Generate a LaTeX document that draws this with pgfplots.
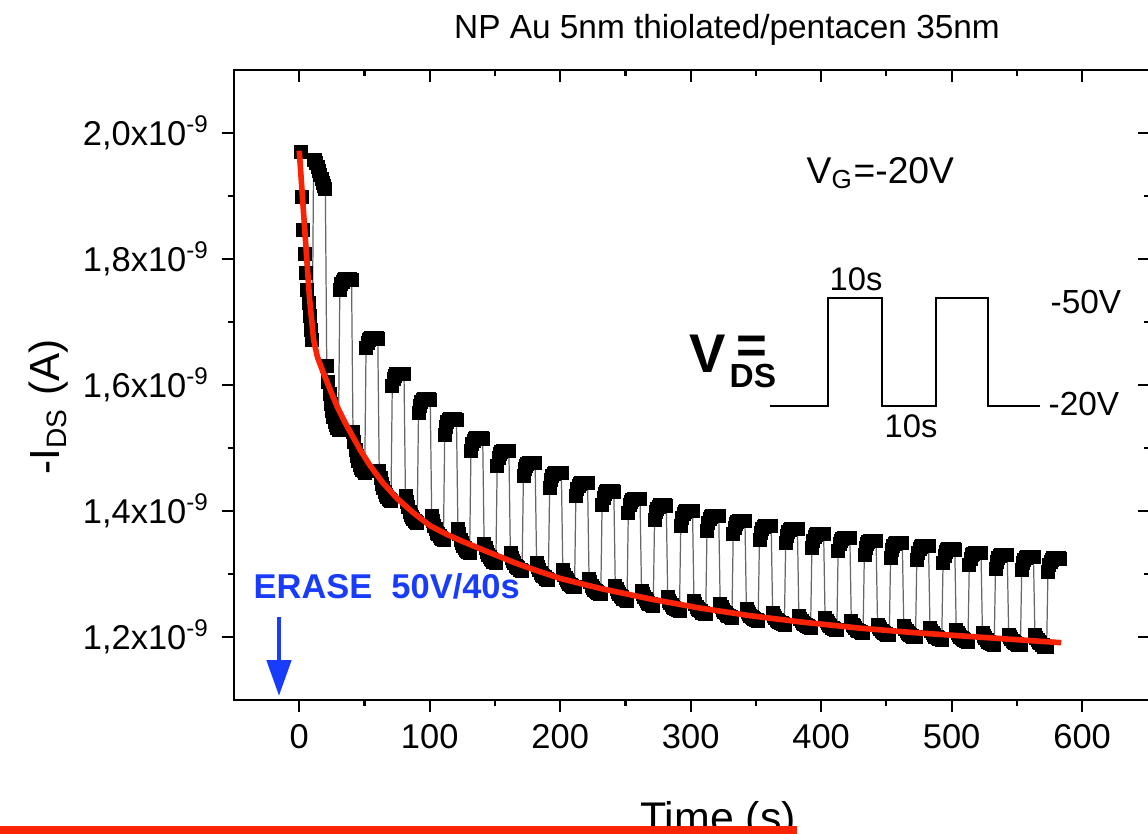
\documentclass[border=0pt]{standalone}
\usepackage{fontspec}
\setmainfont{Liberation Sans}
\usepackage{pgfplots}
\pgfplotsset{compat=1.18}
\usetikzlibrary{arrows.meta}
\definecolor{fitred}{RGB}{250,35,5}
\definecolor{eraseblue}{RGB}{25,60,250}

\pgfplotsset{frame/.style={
    scale only axis, width=91.6mm, height=63mm,
    at={(23.4mm,-70mm)}, anchor=south west,
    xmin=-50, xmax=652, ymin=1.1, ymax=2.1,
    axis line style={line width=0.6pt},
    major tick length=1.2mm, minor tick length=0.6mm,
    every tick/.style={black, line width=0.6pt},
    xtick={0,100,...,600}, minor xtick={50,150,...,550},
    ytick={1.2,1.4,1.6,1.8,2.0}, minor ytick={1.3,1.5,1.7,1.9}}}

\begin{document}
\begin{tikzpicture}
\path[use as bounding box] (0,0) rectangle (114.8mm,-83.3mm);

\begin{axis}[frame, tick align=outside, xtick pos=lower, ytick pos=lower,
    clip mode=individual,
    /pgf/number format/assume math mode=true,
    tick label style={font=\fontsize{9.8}{11}\selectfont},
    yticklabels={{1,2x10\textsuperscript{-9}},{1,4x10\textsuperscript{-9}},{1,6x10\textsuperscript{-9}},{1,8x10\textsuperscript{-9}},{2,0x10\textsuperscript{-9}}}]

% -I_DS in units of 1e-9 A; each line = one 10 s segment (low, then high)
\addplot[black!60, line width=0.35pt, mark=square*, mark size=0.65mm,
    mark options={black, fill=black, line width=0.2pt}] coordinates {
(1,1.970)(2,1.898)(3,1.846)(4,1.808)(5,1.778)(6,1.751)(7,1.730)(8,1.709)(9,1.688)(10,1.672)
(11,1.958)(12,1.957)(13,1.953)(14,1.947)(15,1.940)(16,1.933)(17,1.927)(18,1.921)(19,1.916)(20,1.912)
(21.1,1.630)(22.1,1.605)(23.1,1.586)(24.1,1.570)(25.1,1.559)(26.1,1.550)(27.1,1.542)(28.1,1.537)(29.1,1.532)(30.1,1.529)
(31.1,1.751)(32.1,1.760)(33.1,1.764)(34.1,1.767)(35.1,1.768)(36.1,1.768)(37.1,1.768)(38.1,1.768)(39.1,1.768)(40.1,1.767)
(41.2,1.525)(42.2,1.509)(43.2,1.497)(44.2,1.487)(45.2,1.480)(46.2,1.474)(47.2,1.469)(48.2,1.466)(49.2,1.463)(50.2,1.461)
(51.2,1.659)(52.2,1.667)(53.2,1.672)(54.2,1.674)(55.2,1.675)(56.2,1.675)(57.2,1.675)(58.2,1.675)(59.2,1.675)(60.2,1.674)
(61.3,1.464)(62.3,1.452)(63.3,1.443)(64.3,1.436)(65.3,1.430)(66.3,1.426)(67.3,1.422)(68.3,1.420)(69.3,1.418)(70.3,1.416)
(71.3,1.599)(72.3,1.609)(73.3,1.614)(74.3,1.617)(75.3,1.618)(76.3,1.618)(77.3,1.618)(78.3,1.618)(79.3,1.618)(80.3,1.617)
(81.4,1.424)(82.4,1.414)(83.4,1.406)(84.4,1.399)(85.4,1.394)(86.4,1.391)(87.4,1.388)(88.4,1.385)(89.4,1.383)(90.4,1.382)
(91.4,1.556)(92.4,1.567)(93.4,1.573)(94.4,1.576)(95.4,1.578)(96.4,1.578)(97.4,1.578)(98.4,1.578)(99.4,1.578)(100.4,1.577)
(101.5,1.393)(102.5,1.384)(103.5,1.376)(104.5,1.371)(105.5,1.366)(106.5,1.363)(107.5,1.360)(108.5,1.358)(109.5,1.356)(110.5,1.355)
(111.5,1.521)(112.5,1.534)(113.5,1.541)(114.5,1.544)(115.5,1.546)(116.5,1.546)(117.5,1.546)(118.5,1.546)(119.5,1.546)(120.5,1.545)
(121.6,1.372)(122.6,1.363)(123.6,1.355)(124.6,1.350)(125.6,1.345)(126.6,1.342)(127.6,1.339)(128.6,1.337)(129.6,1.335)(130.6,1.334)
(131.6,1.496)(132.6,1.506)(133.6,1.512)(134.6,1.514)(135.6,1.516)(136.6,1.516)(137.6,1.516)(138.6,1.516)(139.6,1.516)(140.6,1.515)
(141.7,1.348)(142.7,1.341)(143.7,1.335)(144.7,1.330)(145.7,1.327)(146.7,1.324)(147.7,1.322)(148.7,1.320)(149.7,1.319)(150.7,1.318)
(151.7,1.472)(152.7,1.484)(153.7,1.491)(154.7,1.494)(155.7,1.496)(156.7,1.496)(157.7,1.496)(158.7,1.496)(159.7,1.496)(160.7,1.495)
(161.8,1.333)(162.8,1.326)(163.8,1.321)(164.8,1.317)(165.8,1.313)(166.8,1.311)(167.8,1.309)(168.8,1.307)(169.8,1.306)(170.8,1.305)
(171.8,1.456)(172.8,1.467)(173.8,1.472)(174.8,1.475)(175.8,1.477)(176.8,1.477)(177.8,1.477)(178.8,1.477)(179.8,1.477)(180.8,1.476)
(181.9,1.318)(182.9,1.311)(183.9,1.306)(184.9,1.302)(185.9,1.299)(186.9,1.297)(187.9,1.295)(188.9,1.293)(189.9,1.292)(190.9,1.291)
(191.9,1.437)(192.9,1.449)(193.9,1.456)(194.9,1.459)(195.9,1.461)(196.9,1.461)(197.9,1.461)(198.9,1.461)(199.9,1.461)(200.9,1.460)
(202.0,1.306)(203.0,1.299)(204.0,1.294)(205.0,1.290)(206.0,1.287)(207.0,1.285)(208.0,1.283)(209.0,1.281)(210.0,1.280)(211.0,1.279)
(212.0,1.424)(213.0,1.435)(214.0,1.440)(215.0,1.443)(216.0,1.445)(217.0,1.445)(218.0,1.445)(219.0,1.445)(220.0,1.445)(221.0,1.444)
(222.1,1.293)(223.1,1.287)(224.1,1.282)(225.1,1.278)(226.1,1.275)(227.1,1.273)(228.1,1.271)(229.1,1.270)(230.1,1.269)(231.1,1.268)
(232.1,1.410)(233.1,1.421)(234.1,1.427)(235.1,1.430)(236.1,1.432)(237.1,1.432)(238.1,1.432)(239.1,1.432)(240.1,1.432)(241.1,1.431)
(242.2,1.282)(243.2,1.276)(244.2,1.271)(245.2,1.268)(246.2,1.265)(247.2,1.263)(248.2,1.261)(249.2,1.260)(250.2,1.259)(251.2,1.258)
(252.2,1.397)(253.2,1.409)(254.2,1.415)(255.2,1.418)(256.2,1.420)(257.2,1.420)(258.2,1.420)(259.2,1.420)(260.2,1.420)(261.2,1.419)
(262.3,1.274)(263.3,1.268)(264.3,1.263)(265.3,1.260)(266.3,1.257)(267.3,1.255)(268.3,1.253)(269.3,1.252)(270.3,1.251)(271.3,1.250)
(272.3,1.386)(273.3,1.398)(274.3,1.404)(275.3,1.407)(276.3,1.409)(277.3,1.409)(278.3,1.409)(279.3,1.409)(280.3,1.409)(281.3,1.408)
(282.4,1.263)(283.4,1.258)(284.4,1.254)(285.4,1.251)(286.4,1.248)(287.4,1.246)(288.4,1.245)(289.4,1.244)(290.4,1.243)(291.4,1.242)
(292.4,1.377)(293.4,1.389)(294.4,1.396)(295.4,1.399)(296.4,1.401)(297.4,1.401)(298.4,1.401)(299.4,1.401)(300.4,1.401)(301.4,1.400)
(302.5,1.258)(303.5,1.253)(304.5,1.248)(305.5,1.245)(306.5,1.243)(307.5,1.241)(308.5,1.239)(309.5,1.238)(310.5,1.237)(311.5,1.236)
(312.5,1.369)(313.5,1.381)(314.5,1.388)(315.5,1.391)(316.5,1.393)(317.5,1.393)(318.5,1.393)(319.5,1.393)(320.5,1.393)(321.5,1.392)
(322.6,1.253)(323.6,1.248)(324.6,1.243)(325.6,1.240)(326.6,1.238)(327.6,1.235)(328.6,1.234)(329.6,1.233)(330.6,1.232)(331.6,1.231)
(332.6,1.363)(333.6,1.374)(334.6,1.380)(335.6,1.383)(336.6,1.385)(337.6,1.385)(338.6,1.385)(339.6,1.385)(340.6,1.385)(341.6,1.384)
(342.7,1.245)(343.7,1.240)(344.7,1.237)(345.7,1.234)(346.7,1.232)(347.7,1.230)(348.7,1.229)(349.7,1.228)(350.7,1.227)(351.7,1.226)
(352.7,1.355)(353.7,1.366)(354.7,1.372)(355.7,1.375)(356.7,1.377)(357.7,1.377)(358.7,1.377)(359.7,1.377)(360.7,1.377)(361.7,1.376)
(362.8,1.239)(363.8,1.234)(364.8,1.231)(365.8,1.228)(366.8,1.226)(367.8,1.224)(368.8,1.223)(369.8,1.222)(370.8,1.221)(371.8,1.220)
(372.8,1.350)(373.8,1.361)(374.8,1.367)(375.8,1.370)(376.8,1.372)(377.8,1.372)(378.8,1.372)(379.8,1.372)(380.8,1.372)(381.8,1.371)
(382.9,1.234)(383.9,1.229)(384.9,1.226)(385.9,1.223)(386.9,1.221)(387.9,1.219)(388.9,1.218)(389.9,1.217)(390.9,1.216)(391.9,1.215)
(392.9,1.342)(393.9,1.353)(394.9,1.359)(395.9,1.362)(396.9,1.364)(397.9,1.364)(398.9,1.364)(399.9,1.364)(400.9,1.364)(401.9,1.363)
(403.0,1.230)(404.0,1.225)(405.0,1.222)(406.0,1.219)(407.0,1.217)(408.0,1.215)(409.0,1.214)(410.0,1.213)(411.0,1.212)(412.0,1.211)
(413.0,1.337)(414.0,1.348)(415.0,1.353)(416.0,1.356)(417.0,1.358)(418.0,1.358)(419.0,1.358)(420.0,1.358)(421.0,1.358)(422.0,1.357)
(423.1,1.225)(424.1,1.220)(425.1,1.217)(426.1,1.214)(427.1,1.212)(428.1,1.210)(429.1,1.209)(430.1,1.208)(431.1,1.207)(432.1,1.206)
(433.1,1.331)(434.1,1.342)(435.1,1.348)(436.1,1.351)(437.1,1.353)(438.1,1.353)(439.1,1.353)(440.1,1.353)(441.1,1.353)(442.1,1.352)
(443.2,1.220)(444.2,1.216)(445.2,1.213)(446.2,1.210)(447.2,1.208)(448.2,1.207)(449.2,1.205)(450.2,1.204)(451.2,1.204)(452.2,1.203)
(453.2,1.326)(454.2,1.338)(455.2,1.345)(456.2,1.348)(457.2,1.350)(458.2,1.350)(459.2,1.350)(460.2,1.350)(461.2,1.350)(462.2,1.349)
(463.3,1.217)(464.3,1.213)(465.3,1.210)(466.3,1.207)(467.3,1.205)(468.3,1.203)(469.3,1.202)(470.3,1.201)(471.3,1.201)(472.3,1.200)
(473.3,1.323)(474.3,1.334)(475.3,1.340)(476.3,1.343)(477.3,1.345)(478.3,1.345)(479.3,1.345)(480.3,1.345)(481.3,1.345)(482.3,1.344)
(483.4,1.214)(484.4,1.210)(485.4,1.206)(486.4,1.203)(487.4,1.201)(488.4,1.200)(489.4,1.198)(490.4,1.197)(491.4,1.197)(492.4,1.196)
(493.4,1.318)(494.4,1.329)(495.4,1.335)(496.4,1.338)(497.4,1.340)(498.4,1.340)(499.4,1.340)(500.4,1.340)(501.4,1.340)(502.4,1.339)
(503.5,1.212)(504.5,1.207)(505.5,1.204)(506.5,1.201)(507.5,1.199)(508.5,1.197)(509.5,1.196)(510.5,1.194)(511.5,1.194)(512.5,1.193)
(513.5,1.314)(514.5,1.324)(515.5,1.330)(516.5,1.332)(517.5,1.334)(518.5,1.334)(519.5,1.334)(520.5,1.334)(521.5,1.334)(522.5,1.333)
(523.6,1.206)(524.6,1.202)(525.6,1.198)(526.6,1.195)(527.6,1.193)(528.6,1.192)(529.6,1.190)(530.6,1.189)(531.6,1.189)(532.6,1.188)
(533.6,1.308)(534.6,1.320)(535.6,1.326)(536.6,1.329)(537.6,1.331)(538.6,1.331)(539.6,1.331)(540.6,1.331)(541.6,1.331)(542.6,1.330)
(543.7,1.204)(544.7,1.200)(545.7,1.197)(546.7,1.194)(547.7,1.192)(548.7,1.190)(549.7,1.189)(550.7,1.188)(551.7,1.188)(552.7,1.187)
(553.7,1.306)(554.7,1.317)(555.7,1.323)(556.7,1.326)(557.7,1.328)(558.7,1.328)(559.7,1.328)(560.7,1.328)(561.7,1.328)(562.7,1.327)
(563.8,1.203)(564.8,1.198)(565.8,1.195)(566.8,1.192)(567.8,1.190)(568.8,1.188)(569.8,1.187)(570.8,1.185)(571.8,1.185)(572.8,1.184)
(573.8,1.304)(574.8,1.315)(575.8,1.320)(576.8,1.323)(577.8,1.325)(578.8,1.325)(579.8,1.325)(580.8,1.325)(581.8,1.325)(582.8,1.324)
};

% fitted decay, drawn over the markers
\addplot[fitred, line width=1.6pt] coordinates {
(0,1.972)(4,1.853)(8,1.735)(11,1.672)(14,1.644)(18,1.622)(23,1.596)(29,1.566)
(35,1.541)(40,1.522)(47,1.496)(54,1.473)(64,1.445)(75,1.420)(87,1.398)(100,1.377)
(113,1.363)(126,1.351)(140,1.339)(152,1.329)(165,1.318)(177,1.309)(200,1.293)
(231,1.277)(270,1.260)(307,1.246)(345,1.234)(384,1.224)(430,1.214)(471,1.207)
(520,1.200)(584,1.191)};
\end{axis}

% mirrored inward ticks on top and right
\begin{axis}[frame, tick align=inside, xtick pos=upper, ytick pos=upper,
    xticklabels={}, yticklabels={}]
\end{axis}

\begin{scope}[x=0.1mm, y=-0.1mm]
\node[anchor=base, inner sep=0, font=\fontsize{9.5}{11}\selectfont] at (727,38) {NP Au 5nm thiolated/pentacen 35nm};
\node[anchor=base west, inner sep=0, font=\fontsize{10.6}{12}\selectfont] at (806,183) {V\textsubscript{G}=-20V};

\node[anchor=base west, inner sep=0, font=\fontsize{15.5}{17}\selectfont\bfseries] at (689,372) {V};
\node[anchor=base west, inner sep=0, font=\fontsize{15}{17}\selectfont\bfseries] at (736,363) {=};
\node[anchor=base west, inner sep=0, font=\fontsize{9.5}{11}\selectfont\bfseries] at (729,387) {DS};

\draw[line width=0.45pt] (770,406) -- (828,406) -- (828,298) -- (882,298) -- (882,406)
    -- (936,406) -- (936,298) -- (988,298) -- (988,406) -- (1040,406);
\node[anchor=base, inner sep=0, font=\fontsize{9.3}{11}\selectfont] at (856,290) {10s};
\node[anchor=base, inner sep=0, font=\fontsize{9.3}{11}\selectfont] at (911,437) {10s};
\node[anchor=base west, inner sep=0, font=\fontsize{9.5}{11}\selectfont] at (1050,313) {-50V};
\node[anchor=base west, inner sep=0, font=\fontsize{9.5}{11}\selectfont] at (1048,415) {-20V};

\node[anchor=base west, inner sep=0, text=eraseblue, font=\fontsize{9.8}{11}\selectfont\bfseries] at (253,598) {ERASE\ \ 50V/40s};
\draw[eraseblue, line width=1.4pt, -{Triangle[width=2.4mm,length=3.6mm]}] (279,617) -- (279,696);

\node[rotate=90, anchor=base, inner sep=0, font=\fontsize{12}{14}\selectfont] at (60,407) {-I\textsubscript{DS} (A)};
\node[anchor=base, inner sep=0, font=\fontsize{12.2}{14}\selectfont] at (718,832) {Time (s)};
\fill[fitred] (0,826) rectangle (797,834);
\end{scope}
\end{tikzpicture}
\end{document}
